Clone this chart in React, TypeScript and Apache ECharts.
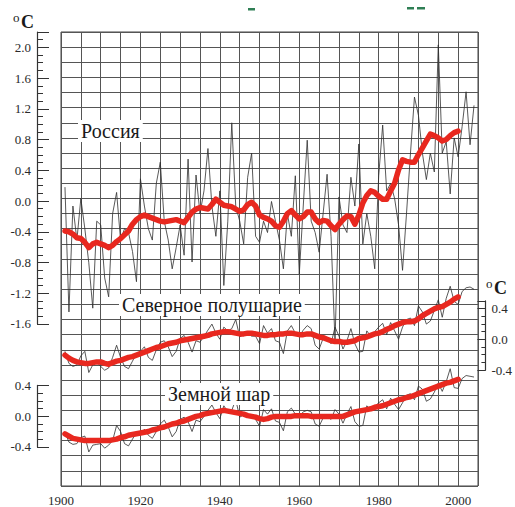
import React, { useEffect, useRef } from "react";
import * as echarts from "echarts";

// ---------- data ----------
const FIRST_YEAR = 1901;

// Russia annual anomalies, 1901..2004
const russiaAnnual = [
  0.15, -1.5, -0.1, -0.55, 0.0, -0.4, -0.85, -1.45, -0.3, -0.35,
  -1.05, -1.3, -0.2, 0.08, -0.55, -0.4, -0.45, -0.7, -1.1, 0.26,
  -0.1, -0.4, -0.55, 0.2, 0.48, -0.3, -0.55, -0.93, -0.65, -0.35,
  -0.75, 0.52, -0.84, 0.31, -0.2, 0.1, 0.66, -0.1, -0.5, 0.1,
  -1.15, -0.3, 1.0, -0.1, -0.3, -0.6, 0.28, 0.6, -0.5, -0.58,
  -0.3, -0.45, -0.04, -0.3, -0.55, -0.93, -0.2, -0.5, 0.3, -1.0,
  -0.1, 0.77, -0.3, -0.45, -0.71, -0.2, 0.32, -0.5, -1.9, 0.02,
  -0.35, -0.45, 0.28, -0.1, 0.72, -0.6, -0.2, -0.5, -0.93, 0.3,
  0.97, 0.1, 0.2, 0.0, -0.35, -0.95, -0.2, 0.6, 1.34, 1.1,
  0.6, 0.25, 0.6, 0.35, 2.03, 0.6, 0.75, 0.06, 0.8, 0.55,
  0.95, 1.41, 0.71, 1.23,
];

// Russia smoothed, 1901..2000
const russiaSmooth = [
  -0.43, -0.44, -0.47, -0.52, -0.53, -0.58, -0.65, -0.6, -0.58, -0.6,
  -0.62, -0.65, -0.62, -0.57, -0.53, -0.48, -0.43, -0.34, -0.28, -0.24,
  -0.22, -0.24, -0.26, -0.28, -0.3, -0.31, -0.3, -0.29, -0.28, -0.3,
  -0.32, -0.25, -0.18, -0.14, -0.12, -0.13, -0.14, -0.08, -0.01, -0.05,
  -0.09, -0.1, -0.11, -0.14, -0.17, -0.15, -0.08, -0.05, -0.1, -0.22,
  -0.25, -0.27, -0.3, -0.36, -0.38, -0.3, -0.2, -0.16, -0.22, -0.27,
  -0.24, -0.18, -0.18, -0.27, -0.32, -0.29, -0.3, -0.36, -0.41, -0.34,
  -0.28, -0.23, -0.24, -0.34, -0.22, -0.06, 0.04, 0.1, 0.08, 0.03,
  -0.01, -0.01, 0.1, 0.2, 0.38, 0.51, 0.49, 0.48, 0.48, 0.58,
  0.67, 0.76, 0.85, 0.83, 0.8, 0.76, 0.78, 0.83, 0.87, 0.89,
];

// Northern hemisphere annual, 1901..2004
const nhAnnual = [
  -0.22, -0.38, -0.42, -0.4, -0.28, -0.22, -0.5, -0.4, -0.36, -0.42,
  -0.47, -0.44, -0.3, -0.14, -0.3, -0.42, -0.45, -0.35, -0.25, -0.22,
  -0.16, -0.3, -0.34, -0.2, -0.1, -0.08, -0.16, -0.29, -0.22, -0.05,
  -0.01, -0.1, -0.23, -0.08, -0.1, -0.02, 0.06, 0.14, 0.02, -0.06,
  0.1, 0.05, 0.08, 0.2, -0.03, 0.0, 0.02, -0.02, -0.02, -0.12,
  0.12, 0.02, 0.08, -0.08, -0.1, -0.25, 0.05, 0.12, 0.02, -0.02,
  0.06, 0.12, 0.08, -0.14, -0.19, -0.05, -0.04, -0.12, 0.1, -0.02,
  -0.19, -0.08, 0.08, -0.12, -0.23, -0.22, 0.05, -0.02, 0.04, 0.1,
  0.15, 0.0, 0.16, 0.05, -0.06, 0.1, 0.2, 0.22, 0.12, 0.38,
  0.3, 0.14, 0.18, 0.32, 0.46, 0.23, 0.48, 0.64, 0.44, 0.4,
  0.57, 0.62, 0.63, 0.6,
];

// Northern hemisphere smoothed, 1901..2000
const nhSmooth = [
  -0.27, -0.31, -0.34, -0.36, -0.37, -0.38, -0.38, -0.37, -0.36, -0.36,
  -0.38, -0.39, -0.37, -0.35, -0.34, -0.32, -0.3, -0.29, -0.27, -0.25,
  -0.23, -0.21, -0.19, -0.17, -0.16, -0.14, -0.12, -0.11, -0.1, -0.08,
  -0.07, -0.06, -0.05, -0.04, -0.03, -0.02, -0.01, 0.01, 0.02, 0.03,
  0.04, 0.04, 0.03, 0.02, 0.01, 0.01, 0.02, 0.02, 0.01, 0.0,
  -0.01, -0.01, 0.0, 0.0, 0.01, 0.01, 0.02, 0.02, 0.01, 0.0,
  0.0, 0.01, 0.01, -0.01, -0.03, -0.04, -0.06, -0.08, -0.09, -0.09,
  -0.1, -0.1, -0.09, -0.08, -0.05, -0.04, -0.03, -0.01, 0.01, 0.02,
  0.04, 0.07, 0.09, 0.12, 0.14, 0.16, 0.17, 0.17, 0.18, 0.21,
  0.25, 0.28, 0.31, 0.34, 0.36, 0.37, 0.4, 0.43, 0.47, 0.5,
];

// Globe annual, 1901..2004
const globeAnnual = [
  -0.29, -0.42, -0.45, -0.44, -0.36, -0.34, -0.55, -0.46, -0.45, -0.44,
  -0.5, -0.46, -0.4, -0.2, -0.28, -0.44, -0.47, -0.38, -0.3, -0.31,
  -0.25, -0.33, -0.37, -0.28, -0.18, -0.13, -0.22, -0.35, -0.28, -0.12,
  -0.09, -0.15, -0.28, -0.13, -0.15, -0.08, 0.0, 0.07, -0.03, -0.11,
  0.06, -0.02, 0.0, 0.14, -0.09, -0.06, -0.05, -0.08, -0.12, -0.21,
  0.01, -0.05, 0.02, -0.14, -0.16, -0.27, -0.02, 0.03, -0.05, -0.08,
  -0.02, 0.0, -0.02, -0.18, -0.21, -0.1, -0.08, -0.12, 0.01, -0.05,
  -0.17, -0.05, 0.05, -0.15, -0.21, -0.2, 0.06, 0.0, 0.05, 0.1,
  0.14, 0.02, 0.16, 0.08, 0.01, 0.1, 0.2, 0.22, 0.14, 0.32,
  0.28, 0.12, 0.15, 0.24, 0.36, 0.25, 0.38, 0.55, 0.3, 0.29,
  0.42, 0.46, 0.45, 0.44,
];

// Globe smoothed, 1901..2000
const globeSmooth = [
  -0.31, -0.34, -0.37, -0.38, -0.39, -0.4, -0.4, -0.4, -0.4, -0.4,
  -0.4, -0.4, -0.39, -0.38, -0.36, -0.35, -0.33, -0.32, -0.31, -0.3,
  -0.29, -0.28, -0.26, -0.25, -0.23, -0.22, -0.2, -0.18, -0.17, -0.15,
  -0.14, -0.12, -0.1, -0.08, -0.07, -0.05, -0.04, -0.03, -0.02, -0.01,
  0.0, -0.01, -0.02, -0.03, -0.04, -0.05, -0.07, -0.08, -0.09, -0.11,
  -0.12, -0.11, -0.09, -0.08, -0.08, -0.08, -0.08, -0.08, -0.07, -0.07,
  -0.07, -0.07, -0.08, -0.08, -0.08, -0.08, -0.08, -0.08, -0.08, -0.08,
  -0.08, -0.06, -0.04, -0.02, -0.01, 0.0, 0.01, 0.02, 0.04, 0.05,
  0.06, 0.08, 0.1, 0.12, 0.14, 0.15, 0.17, 0.18, 0.2, 0.22,
  0.24, 0.26, 0.28, 0.3, 0.32, 0.34, 0.36, 0.37, 0.39, 0.41,
];

const xLabelYears = [1900, 1920, 1940, 1960, 1980, 2000];
const panelNames = ["Россия", "Северное полушарие", "Земной шар"];
const unitLabel = ["o", "C"];

// ---------- layout ----------
const SERIF = "serif";
const LEFT = 61;
const WIDTH = 417;
const TOP = 32;
const HEIGHT = 461;
const RU_MIN = -3.8;
const RU_MAX = 2.2;
const PX = HEIGHT / (RU_MAX - RU_MIN);
const NH_SHIFT = 1.8; // NH zero sits at Russia -1.8
const GL_SHIFT = 2.8; // Globe zero sits at Russia -2.8
const yOf = (ruVal: number) => TOP + (RU_MAX - ruVal) * PX;

const toPairs = (vals: number[]) => vals.map((v, i) => [FIRST_YEAR + i, v]);

const fmtMajor = (v: number) => {
  const r = Math.round(v * 10);
  return r % 4 === 0 ? (r / 10).toFixed(1) : "";
};

const LINE_THIN = "#2e2e2e";
const RED = "#e8281f";
const GRIDLINE = "#555555";
const AXIS = "#333333";

function labelAxis(gridIndex: number, min: number, max: number, position: string, offset: number, major: boolean, len: number) {
  return {
    type: "value",
    gridIndex,
    min,
    max,
    interval: major ? 0.4 : 0.1,
    position,
    offset,
    axisLine: { show: major, onZero: false, lineStyle: { color: AXIS, width: 1.2 } },
    axisTick: { show: true, inside: true, length: len, lineStyle: { color: AXIS, width: 1 } },
    axisLabel: major
      ? { show: true, margin: 6, formatter: fmtMajor, fontFamily: SERIF, fontSize: 13, color: "#2a2a2a" }
      : { show: false },
    splitLine: { show: false },
  };
}

export default function App() {
  const ref = useRef<HTMLDivElement>(null);

  useEffect(() => {
    if (!ref.current) return;
    const chart = echarts.init(ref.current, undefined, { renderer: "svg" });

    const nhTop = yOf(0.5 - NH_SHIFT);
    const nhH = 0.9 * PX;
    const glTop = yOf(0.4 - GL_SHIFT);
    const glH = 0.8 * PX;

    const hiddenX = (gridIndex: number) => ({
      type: "value", gridIndex, min: 1900, max: 2005, show: false,
    });

    const textLabel = (text: string, x: number, y: number, size: number) => ({
      type: "text",
      x,
      y,
      z: 50,
      style: {
        text,
        font: `${size}px ${SERIF}`,
        fontFamily: SERIF,
        fontSize: size,
        fill: "#1a1a1a",
        backgroundColor: "#ffffff",
        padding: [1, 3],
      },
    });

    const unit = (x: number, y: number) => [
      { type: "text", x, y, z: 50, style: { text: unitLabel[0], font: `13px ${SERIF}`, fontFamily: SERIF, fontSize: 13, fill: "#1a1a1a" } },
      { type: "text", x: x + 8, y: y + 2, z: 50, style: { text: unitLabel[1], font: `bold 18px ${SERIF}`, fontFamily: SERIF, fontSize: 18, fontWeight: "bold", fill: "#1a1a1a" } },
    ];

    chart.setOption({
      animation: false,
      textStyle: { fontFamily: SERIF },
      grid: [
        { left: LEFT, top: TOP, width: WIDTH, height: HEIGHT, show: true, borderColor: "#444", borderWidth: 1, backgroundColor: "transparent" },
        { left: LEFT, top: TOP, width: WIDTH, height: (RU_MAX + 1.6) * PX },
        { left: LEFT, top: nhTop, width: WIDTH, height: nhH },
        { left: LEFT, top: glTop, width: WIDTH, height: glH },
      ],
      xAxis: [
        {
          type: "value",
          gridIndex: 0,
          min: 1900,
          max: 2005,
          interval: 5,
          axisLine: { show: false },
          axisTick: { show: false },
          splitLine: { show: true, lineStyle: { color: GRIDLINE, width: 1 } },
          axisLabel: {
            margin: 8,
            fontFamily: SERIF,
            fontSize: 13,
            color: "#2a2a2a",
            formatter: (v: number) => (xLabelYears.includes(Math.round(v)) ? String(Math.round(v)) : ""),
          },
        },
        hiddenX(1),
        hiddenX(2),
        hiddenX(3),
      ],
      yAxis: [
        {
          type: "value",
          gridIndex: 0,
          min: RU_MIN,
          max: RU_MAX,
          interval: 0.2,
          axisLine: { show: false },
          axisTick: { show: false },
          axisLabel: { show: false },
          splitLine: { show: true, lineStyle: { color: GRIDLINE, width: 1 } },
        },
        { type: "value", gridIndex: 0, min: RU_MIN + NH_SHIFT, max: RU_MAX + NH_SHIFT, show: false, splitLine: { show: false } },
        { type: "value", gridIndex: 0, min: RU_MIN + GL_SHIFT, max: RU_MAX + GL_SHIFT, show: false, splitLine: { show: false } },
        labelAxis(1, -1.6, 2.2, "left", 24, true, 12),
        labelAxis(1, -1.6, 2.2, "left", 24, false, 6),
        labelAxis(2, -0.4, 0.5, "right", 14, true, 8),
        labelAxis(2, -0.4, 0.5, "right", 14, false, 4),
        labelAxis(3, -0.4, 0.4, "left", 24, true, 12),
        labelAxis(3, -0.4, 0.4, "left", 24, false, 6),
      ],
      series: [
        { type: "line", xAxisIndex: 0, yAxisIndex: 0, data: toPairs(russiaAnnual), symbol: "none", z: 2, lineStyle: { color: LINE_THIN, width: 0.8 } },
        { type: "line", xAxisIndex: 0, yAxisIndex: 1, data: toPairs(nhAnnual), symbol: "none", z: 2, lineStyle: { color: LINE_THIN, width: 0.8 } },
        { type: "line", xAxisIndex: 0, yAxisIndex: 2, data: toPairs(globeAnnual), symbol: "none", z: 2, lineStyle: { color: LINE_THIN, width: 0.8 } },
        { type: "line", xAxisIndex: 0, yAxisIndex: 0, data: toPairs(russiaSmooth), symbol: "none", z: 3, lineStyle: { color: RED, width: 5.5, join: "round", cap: "round" } },
        { type: "line", xAxisIndex: 0, yAxisIndex: 1, data: toPairs(nhSmooth), symbol: "none", z: 3, lineStyle: { color: RED, width: 5.5, join: "round", cap: "round" } },
        { type: "line", xAxisIndex: 0, yAxisIndex: 2, data: toPairs(globeSmooth), symbol: "none", z: 3, lineStyle: { color: RED, width: 5.5, join: "round", cap: "round" } },
      ],
      graphic: [
        textLabel(panelNames[0], 78, 120, 20),
        textLabel(panelNames[1], 119, 294, 20),
        textLabel(panelNames[2], 165, 383, 20),
        ...unit(13, 11),
        ...unit(486, 277),
        { type: "rect", shape: { x: 248, y: 8, width: 7, height: 2.5 }, style: { fill: "#2f7f55" } },
        { type: "rect", shape: { x: 407, y: 7, width: 7, height: 2.5 }, style: { fill: "#2f7f55" } },
        { type: "rect", shape: { x: 417, y: 7, width: 8, height: 2.5 }, style: { fill: "#2f7f55" } },
      ],
    });

    return () => chart.dispose();
  }, []);

  return (
    <div
      ref={ref}
      style={{ position: "absolute", left: 0, top: 0, width: 515, height: 507, background: "#fff" }}
    />
  );
}
